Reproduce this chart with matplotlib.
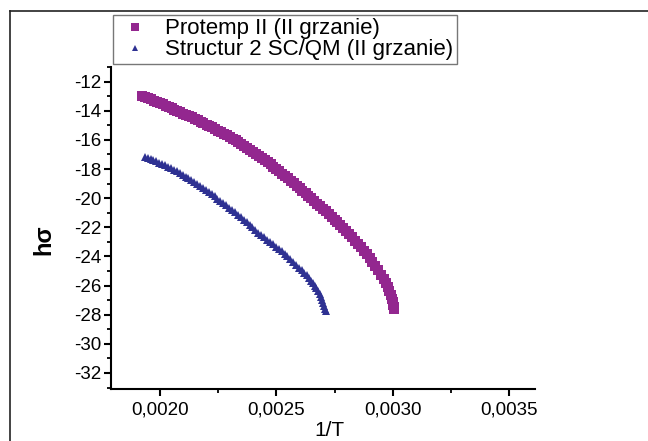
import numpy as np
import matplotlib
matplotlib.use('Agg')
import matplotlib.pyplot as plt
from matplotlib.ticker import FuncFormatter, MultipleLocator
from matplotlib.lines import Line2D

plt.rcParams['font.family'] = ['Liberation Sans', 'DejaVu Sans']

# Protemp II (II grzanie)
x_protemp = [0.001925, 0.001937, 0.001950, 0.001962, 0.001975, 0.001987, 0.002000, 0.002012,
             0.002025, 0.002037, 0.002050, 0.002062, 0.002075, 0.002087, 0.002100, 0.002112,
             0.002125, 0.002137, 0.002150, 0.002162, 0.002175, 0.002187, 0.002200, 0.002212,
             0.002225, 0.002237, 0.002250, 0.002262, 0.002275, 0.002287, 0.002300, 0.002312,
             0.002325, 0.002337, 0.002350, 0.002362, 0.002375, 0.002387, 0.002400, 0.002412,
             0.002425, 0.002437, 0.002450, 0.002462, 0.002475, 0.002487, 0.002500, 0.002512,
             0.002525, 0.002537, 0.002550, 0.002562, 0.002575, 0.002587, 0.002600, 0.002612,
             0.002625, 0.002637, 0.002650, 0.002662, 0.002675, 0.002687, 0.002700, 0.002712,
             0.002725, 0.002737, 0.002750, 0.002762, 0.002775, 0.002787, 0.002800, 0.002812,
             0.002825, 0.002837, 0.002850, 0.002862, 0.002875, 0.002887, 0.002900, 0.002912,
             0.002925, 0.002937, 0.002950, 0.002960, 0.002970, 0.002978, 0.002985, 0.002990,
             0.002995, 0.002999, 0.003002, 0.003004, 0.003005]
y_protemp = [-12.96, -13.04, -13.12, -13.21, -13.30, -13.38, -13.47, -13.56,
             -13.65, -13.74, -13.83, -13.92, -14.01, -14.10, -14.19, -14.28,
             -14.37, -14.46, -14.56, -14.65, -14.75, -14.85, -14.95, -15.05,
             -15.15, -15.25, -15.36, -15.46, -15.57, -15.68, -15.79, -15.91,
             -16.03, -16.15, -16.28, -16.41, -16.54, -16.67, -16.81, -16.95,
             -17.09, -17.23, -17.38, -17.53, -17.68, -17.83, -17.99, -18.15,
             -18.31, -18.47, -18.64, -18.81, -18.98, -19.15, -19.32, -19.49,
             -19.67, -19.84, -20.01, -20.19, -20.37, -20.55, -20.73, -20.91,
             -21.10, -21.29, -21.48, -21.67, -21.86, -22.06, -22.26, -22.48,
             -22.70, -22.92, -23.15, -23.38, -23.62, -23.86, -24.10, -24.37,
             -24.65, -24.96, -25.28, -25.56, -25.85, -26.12, -26.40, -26.68,
             -26.95, -27.15, -27.35, -27.48, -27.60]

# Structur 2 SC/QM (II grzanie)
x_structur = [0.001935, 0.001947, 0.001960, 0.001972, 0.001985, 0.001997, 0.002010,
              0.002022, 0.002035, 0.002047, 0.002060, 0.002072, 0.002085, 0.002097,
              0.002110, 0.002122, 0.002135, 0.002147, 0.002160, 0.002172, 0.002185,
              0.002197, 0.002210, 0.002222, 0.002235, 0.002247, 0.002260, 0.002272,
              0.002285, 0.002297, 0.002310, 0.002322, 0.002335, 0.002347, 0.002360,
              0.002372, 0.002385, 0.002397, 0.002410, 0.002422, 0.002435, 0.002447,
              0.002460, 0.002472, 0.002485, 0.002497, 0.002510, 0.002522, 0.002535,
              0.002547, 0.002560, 0.002572, 0.002585, 0.002597, 0.002610, 0.002620,
              0.002630, 0.002640, 0.002650, 0.002658, 0.002665, 0.002672, 0.002680,
              0.002686, 0.002692, 0.002697, 0.002702, 0.002706, 0.002710, 0.002712]
y_structur = [-17.15, -17.22, -17.31, -17.39, -17.48, -17.57, -17.66,
              -17.75, -17.85, -17.95, -18.06, -18.17, -18.29, -18.41,
              -18.53, -18.65, -18.78, -18.91, -19.04, -19.17, -19.31,
              -19.45, -19.59, -19.73, -19.88, -20.03, -20.18, -20.33,
              -20.49, -20.65, -20.81, -20.97, -21.14, -21.31, -21.48,
              -21.65, -21.83, -22.01, -22.19, -22.36, -22.53, -22.70,
              -22.86, -23.02, -23.18, -23.34, -23.50, -23.66, -23.83,
              -24.00, -24.18, -24.37, -24.56, -24.76, -24.96, -25.13,
              -25.30, -25.49, -25.68, -25.85, -26.02, -26.20, -26.40,
              -26.60, -26.80, -27.00, -27.20, -27.40, -27.60, -27.75]

xticks = [0.0020, 0.0025, 0.0030, 0.0035]
yticks = [-12, -14, -16, -18, -20, -22, -24, -26, -28, -30, -32]

c_purple = '#93278f'
c_blue = '#2e3192'

fig = plt.figure(figsize=(6.48, 4.41), dpi=100)
ax = fig.add_axes([0.1713, 0.1179, 0.6543, 0.7301])

ax.plot(x_protemp, y_protemp, 's', color=c_purple, markersize=7,
        markeredgewidth=0, label='Protemp II (II grzanie)')
ax.plot(x_structur, y_structur, '^', color=c_blue, markersize=5.5,
        markeredgewidth=0, label='Structur 2 SC/QM (II grzanie)')

ax.set_xlim(0.00179, 0.00361)
ax.set_ylim(-33.1, -11.0)
ax.set_xticks(xticks)
ax.set_yticks(yticks)
ax.xaxis.set_minor_locator(MultipleLocator(0.00025))
ax.yaxis.set_minor_locator(MultipleLocator(1))
ax.xaxis.set_major_formatter(FuncFormatter(lambda v, p: ('%.4f' % v).replace('.', ',')))
ax.yaxis.set_major_formatter(FuncFormatter(lambda v, p: '%d' % v))

for s in ['top', 'right']:
    ax.spines[s].set_visible(False)
for s in ['left', 'bottom']:
    ax.spines[s].set_linewidth(1.5)

ax.tick_params(which='major', direction='out', length=5, width=1.5,
               labelsize=13.5, pad=2)
ax.tick_params(axis='x', which='major', pad=4)
ax.tick_params(which='minor', direction='out', length=3, width=1.3)

ax.set_xlabel('1/T', fontsize=15)
ax.xaxis.set_label_coords(0.516, -0.100)
ax.set_ylabel('hσ', fontsize=17, fontweight='bold')
ax.yaxis.set_label_coords(-0.132, 0.463)

handles = [Line2D([], [], marker='s', linestyle='none', color=c_purple,
                  markersize=5.5, markeredgewidth=0),
           Line2D([], [], marker='^', linestyle='none', color=c_blue,
                  markersize=4, markeredgewidth=0)]
leg = fig.legend(handles, ['Protemp II (II grzanie)', 'Structur 2 SC/QM (II grzanie)'],
                 loc='upper left', bbox_to_anchor=(113 / 648, 1 - 15 / 441),
                 fontsize=16, frameon=True, fancybox=False,
                 borderpad=0.15, labelspacing=0.0, handlelength=1.7,
                 handletextpad=0.5, borderaxespad=0)
leg.get_frame().set_edgecolor('#555555')
leg.get_frame().set_linewidth(1.0)

# outer frame
fig.add_artist(Line2D([10 / 648, 1.0], [1 - 11 / 441, 1 - 11 / 441],
                      transform=fig.transFigure, color='#222222', linewidth=1.2))
fig.add_artist(Line2D([10 / 648, 10 / 648], [0.0, 1 - 11 / 441],
                      transform=fig.transFigure, color='#222222', linewidth=1.2))

fig.savefig('out.png', dpi=100)
